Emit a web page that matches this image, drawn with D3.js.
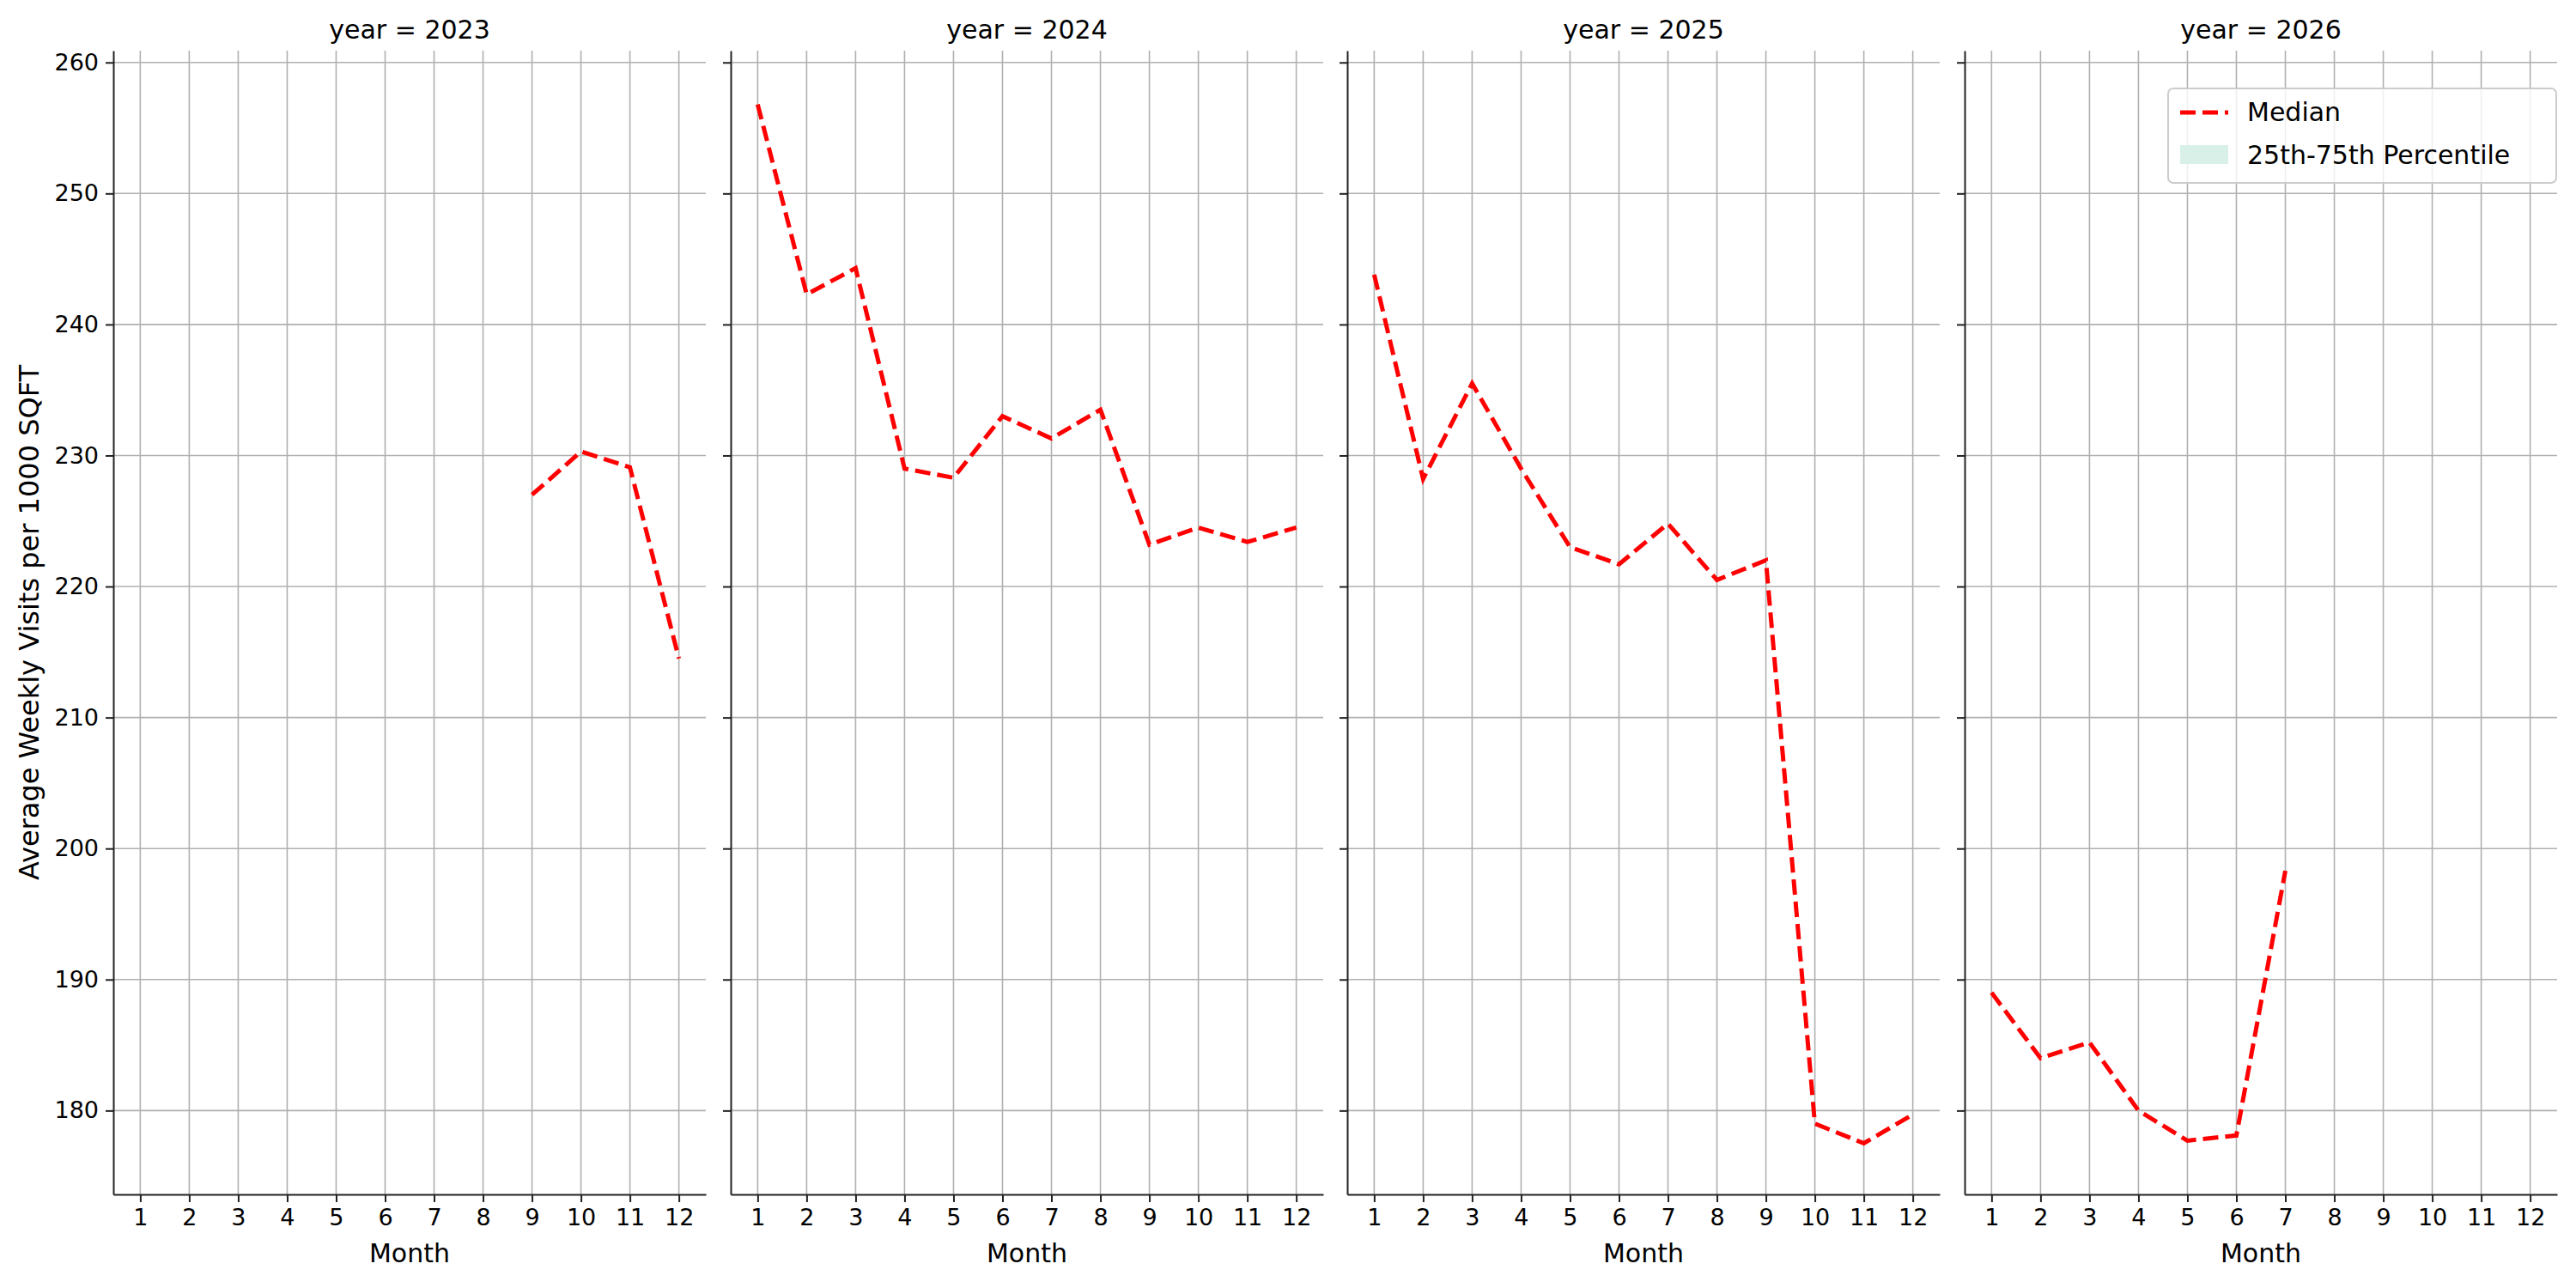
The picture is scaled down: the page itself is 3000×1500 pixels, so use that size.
<!DOCTYPE html>
<html>
<head>
<meta charset="utf-8">
<script src="https://cdn.jsdelivr.net/npm/d3@7"></script>
<style>
  body { margin: 0; background: #fff; }
  text { font-family: "DejaVu Sans", sans-serif; }
</style>
</head>
<body>
<svg id="chart" width="3000" height="1500"></svg>
<script>
// data
let years = [2023, 2024, 2025, 2026];
let months = [1, 2, 3, 4, 5, 6, 7, 8, 9, 10, 11, 12];
let yTicks = [180, 190, 200, 210, 220, 230, 240, 250, 260];
let median2023 = [null, null, null, null, null, null, null, null, 227.0, 230.3, 229.1, 214.5];
let median2024 = [256.8, 242.3, 244.3, 229.0, 228.3, 233.0, 231.3, 233.5, 223.2, 224.5, 223.4, 224.5];
let median2025 = [243.8, 228.2, 235.5, 229.0, 223.0, 221.7, 224.8, 220.5, 222.0, 179.0, 177.5, 179.7];
let median2026 = [189.0, 184.0, 185.2, 180.0, 177.7, 178.1, 198.3, null, null, null, null, null];
let medians = [median2023, median2024, median2025, median2026];

let svg = d3.select('#chart');
let panelLeft = [132, 851, 1569, 2288];
let panelWidth = 690;
let plotTop = 59;
let plotBottom = 1391;

let y = d3.scaleLinear().domain([173.6, 260.9]).range([plotBottom, plotTop]);

years.forEach((yr, i) => {
  let x = d3.scaleLinear().domain([0.45, 12.55]).range([panelLeft[i], panelLeft[i] + panelWidth]);
  let g = svg.append('g');

  // grid
  g.selectAll('.vg').data(months).enter().append('line')
    .attr('x1', d => x(d)).attr('x2', d => x(d))
    .attr('y1', plotTop).attr('y2', plotBottom)
    .attr('stroke', '#b0b0b0').attr('stroke-width', 1.6);
  g.selectAll('.hg').data(yTicks).enter().append('line')
    .attr('x1', panelLeft[i]).attr('x2', panelLeft[i] + panelWidth)
    .attr('y1', d => y(d)).attr('y2', d => y(d))
    .attr('stroke', '#b0b0b0').attr('stroke-width', 1.6);

  // axes
  let xAxis = g.append('g').attr('transform', 'translate(0,' + plotBottom + ')')
    .call(d3.axisBottom(x).tickValues(months).tickFormat(d3.format('d')).tickSize(9).tickPadding(8).tickSizeOuter(0));
  let yAxis = g.append('g').attr('transform', 'translate(' + panelLeft[i] + ',0)')
    .call(d3.axisLeft(y).tickValues(yTicks).tickSize(9).tickPadding(8).tickSizeOuter(0)
      .tickFormat(i === 0 ? d3.format('d') : () => ''));
  [xAxis, yAxis].forEach(a => {
    a.selectAll('text').attr('font-size', 27).attr('fill', '#000');
    a.selectAll('line').attr('stroke', '#222').attr('stroke-width', 2);
    a.select('.domain').attr('stroke', '#222').attr('stroke-width', 2);
  });

  // title and x label
  g.append('text').attr('x', panelLeft[i] + panelWidth / 2).attr('y', 45)
    .attr('text-anchor', 'middle').attr('font-size', 30).text('year = ' + yr);
  g.append('text').attr('x', panelLeft[i] + panelWidth / 2).attr('y', 1470)
    .attr('text-anchor', 'middle').attr('font-size', 30).text('Month');

  // median line
  let line = d3.line()
    .defined(d => d[1] !== null)
    .x(d => x(d[0])).y(d => y(d[1]));
  g.append('path')
    .datum(months.map((m, j) => [m, medians[i][j]]))
    .attr('d', line)
    .attr('fill', 'none').attr('stroke', '#ff0000')
    .attr('stroke-width', 5).attr('stroke-dasharray', '18,8');
});

svg.append('text')
  .attr('transform', 'translate(45,' + (plotTop + plotBottom) / 2 + ') rotate(-90)')
  .attr('text-anchor', 'middle').attr('font-size', 32)
  .text('Average Weekly Visits per 1000 SQFT');

// legend
let lg = svg.append('g').attr('transform', 'translate(2525,103)');
lg.append('rect').attr('width', 452).attr('height', 110).attr('rx', 6)
  .attr('fill', '#fff').attr('fill-opacity', 0.8).attr('stroke', '#ccc').attr('stroke-width', 2);
lg.append('line').attr('x1', 14).attr('x2', 70).attr('y1', 28).attr('y2', 28)
  .attr('stroke', '#ff0000').attr('stroke-width', 5).attr('stroke-dasharray', '18,8');
lg.append('text').attr('x', 92).attr('y', 38).attr('font-size', 30).text('Median');
lg.append('rect').attr('x', 14).attr('y', 66).attr('width', 56).attr('height', 22)
  .attr('fill', '#d8f0e8');
lg.append('text').attr('x', 92).attr('y', 88).attr('font-size', 30).text('25th-75th Percentile');
</script>
</body>
</html>
